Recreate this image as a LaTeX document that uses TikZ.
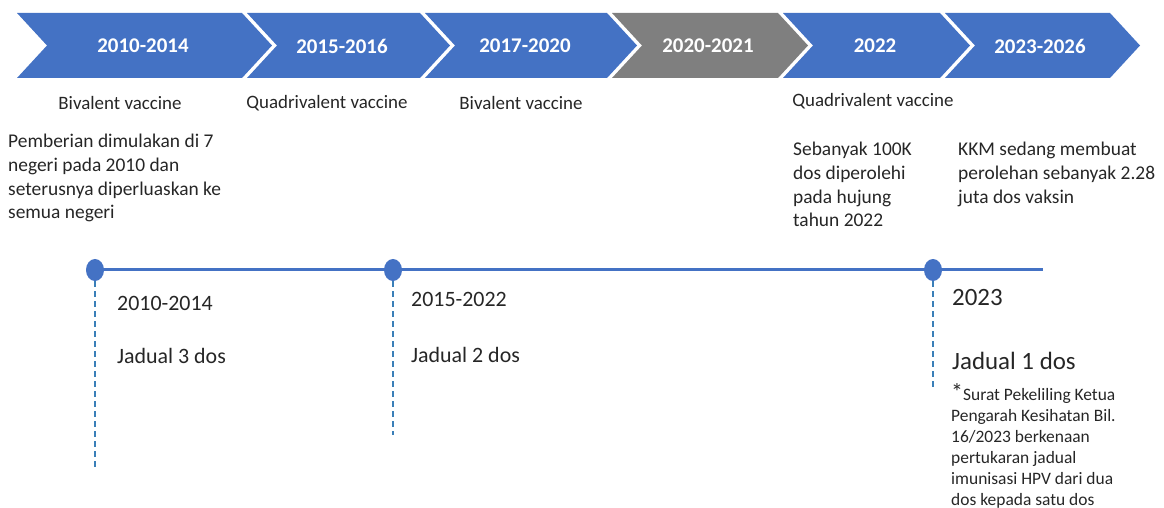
\documentclass[tikz,border=0pt]{standalone}
\usepackage{fontspec}
\setmainfont{Carlito}
\usetikzlibrary{shapes.geometric}
\definecolor{chevblue}{HTML}{4472C4}
\definecolor{chevgray}{HTML}{7F7F7F}
\definecolor{txt}{HTML}{262626}
\definecolor{dashc}{HTML}{3A7FB8}
\newcommand\chevshape[3]{%
  \fill[#3] (#1,13) -- (#2-30,13) -- (#2,45.5) -- (#2-30,78) -- (#1,78) -- (#1+30,45.5) -- cycle;}
\begin{document}
\begin{tikzpicture}[x=1bp,y=-1bp,
  chevlbl/.style={text=white,inner sep=0,font=\bfseries\fontsize{21}{24}\selectfont},
  vacc/.style={text=txt,inner sep=0,font=\fontsize{19}{23}\selectfont},
  para/.style={text=txt,inner sep=0,anchor=north west,align=left,font=\fontsize{19.5}{23.8}\selectfont},
  small/.style={text=txt,inner sep=0,anchor=north west,align=left,font=\fontsize{17.5}{21.2}\selectfont},
  lowlbl/.style={text=txt,inner sep=0,anchor=west,font=\fontsize{22}{26}\selectfont},
  biglbl/.style={text=txt,inner sep=0,anchor=west,font=\fontsize{25}{28}\selectfont},
  dot/.style={ellipse,fill=chevblue,minimum width=18bp,minimum height=22bp,inner sep=0},
  tline/.style={draw=chevblue,line width=3bp},
  dline/.style={draw=dashc,line width=1.5bp,dash pattern=on 6bp off 4bp}]
\useasboundingbox (0,0) rectangle (1164,508);
% chevrons
\chevshape{17}{272}{chevblue}
\chevshape{247}{450}{chevblue}
\chevshape{425}{637}{chevblue}
\chevshape{612}{808}{chevgray}
\chevshape{783}{970}{chevblue}
\chevshape{945}{1140}{chevblue}
\node[chevlbl] (c1) at (143,46) {2010-2014};
\node[chevlbl] (c2) at (342,46) {2015-2016};
\node[chevlbl] (c3) at (525,46) {2017-2020};
\node[chevlbl] (c4) at (708,46) {2020-2021};
\node[chevlbl] (c5) at (875,46) {2022};
\node[chevlbl] (c6) at (1040,46) {2023-2026};
% vaccine types
\node[vacc] (v1) at (120,103) {Bivalent vaccine};
\node[vacc] (v2) at (327,103) {Quadrivalent vaccine};
\node[vacc] (v3) at (521,103) {Bivalent vaccine};
\node[vacc] (v5) at (873,101) {Quadrivalent vaccine};
% descriptions
\node[para] (p1) at (8,134) {Pemberian dimulakan di 7\\negeri pada 2010 dan\\seterusnya diperluaskan ke\\semua negeri};
\node[para] (p5) at (793,142) {Sebanyak 100K\\dos diperolehi\\pada hujung\\tahun 2022};
\node[para] (p6) at (958,142) {KKM sedang membuat\\perolehan sebanyak 2.28\\juta dos vaksin};
% timeline
\node[dot] (d1) at (95,270) {};
\node[dot] (d2) at (393,270) {};
\node[dot] (d3) at (933,270) {};
\coordinate (tend) at (1043,270);
\draw[tline] (d1.center) -- (d2.center) -- (d3.center) -- (tend);
\coordinate (e1) at (95,470);
\coordinate (e2) at (393,435);
\coordinate (e3) at (933,388);
\draw[dline] (d1.south) -- (e1);
\draw[dline] (d2.south) -- (e2);
\draw[dline] (d3.south) -- (e3);
% lower labels
\node[lowlbl] (y1) at (117,303) {2010-2014};
\node[lowlbl] (j1) at (117,356) {Jadual 3 dos};
\node[lowlbl] (y2) at (411,299) {2015-2022};
\node[lowlbl] (j2) at (411,355) {Jadual 2 dos};
\node[biglbl] (y3) at (952,298) {2023};
\node[biglbl] (j3) at (952,361) {Jadual 1 dos};
\node[small] (note) at (951,383) {{\fontsize{24}{21.2}\selectfont *}Surat Pekeliling Ketua\\Pengarah Kesihatan Bil.\\16/2023 berkenaan\\pertukaran jadual\\imunisasi HPV dari dua\\dos kepada satu dos};
\end{tikzpicture}
\end{document}
